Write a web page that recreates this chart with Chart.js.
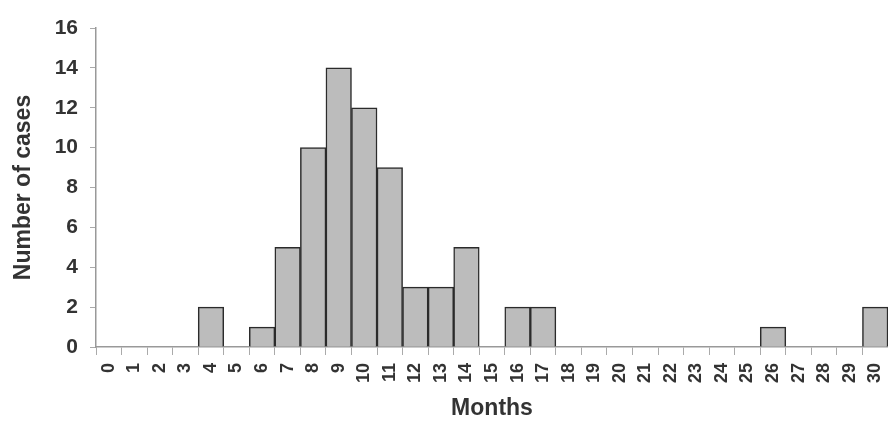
<!DOCTYPE html>
<html>
<head>
<meta charset="utf-8">
<script src="https://cdn.jsdelivr.net/npm/chart.js@4/dist/chart.umd.min.js"></script>
<style>
  html, body { margin: 0; padding: 0; background: #fff; }
  #wrap { width: 888px; height: 426px; position: relative; }
</style>
</head>
<body>
<div id="wrap"><canvas id="casesChart"></canvas></div>
<script>
// Data
const months = ['0','1','2','3','4','5','6','7','8','9','10','11','12','13','14','15',
                '16','17','18','19','20','21','22','23','24','25','26','27','28','29','30'];
const cases = [0,0,0,0,2,0,1,5,10,14,12,9,3,3,5,0,2,2,0,0,0,0,0,0,0,0,1,0,0,0,2];
const yTicks = [0,2,4,6,8,10,12,14,16];

document.addEventListener('DOMContentLoaded', () => {
    const ctx = document.getElementById('casesChart');
    new Chart(ctx, {
        type: 'bar',
        data: {
            labels: months,
            datasets: [{
                label: 'Number of cases',
                data: cases,
                backgroundColor: '#bcbcbc',
                borderColor: '#2b2b2b',
                borderWidth: 1.5,
                barPercentage: 1,
                categoryPercentage: 1
            }]
        },
        options: {
            responsive: true,
            maintainAspectRatio: false,
            animation: false,
            layout: { padding: { top: 28, right: 0, left: 0, bottom: 0 } },
            plugins: {
                legend: { display: false },
                tooltip: { enabled: false }
            },
            scales: {
                x: {
                    offset: true,
                    grid: { offset: true, drawOnChartArea: false, tickLength: 8, color: '#aaa' },
                    border: { color: '#999', width: 1.5 },
                    ticks: {
                        minRotation: 90, maxRotation: 90, autoSkip: false, padding: 8,
                        color: '#333', font: { family: 'Liberation Sans', size: 18, weight: 'bold' }
                    },
                    title: {
                        display: true, text: 'Months', color: '#333', padding: { top: 2 },
                        font: { family: 'Liberation Sans', size: 23, weight: 'bold' }
                    },
                    afterFit: (scale) => { scale.height = 79; scale.paddingRight = 0; }
                },
                y: {
                    min: 0, max: 16,
                    afterBuildTicks: (scale) => { scale.ticks = yTicks.map(v => ({ value: v })); },
                    grid: { drawOnChartArea: false, tickLength: 6, color: '#aaa' },
                    border: { color: '#999', width: 1.5 },
                    ticks: {
                        padding: 12, color: '#333',
                        font: { family: 'Liberation Sans', size: 21, weight: 'bold' }
                    },
                    title: {
                        display: true, text: 'Number of cases', color: '#333', padding: { top: 10, bottom: 0 },
                        font: { family: 'Liberation Sans', size: 23, weight: 'bold' }
                    },
                    afterFit: (scale) => { scale.width = 96; }
                }
            }
        }
    });
});
</script>
</body>
</html>
